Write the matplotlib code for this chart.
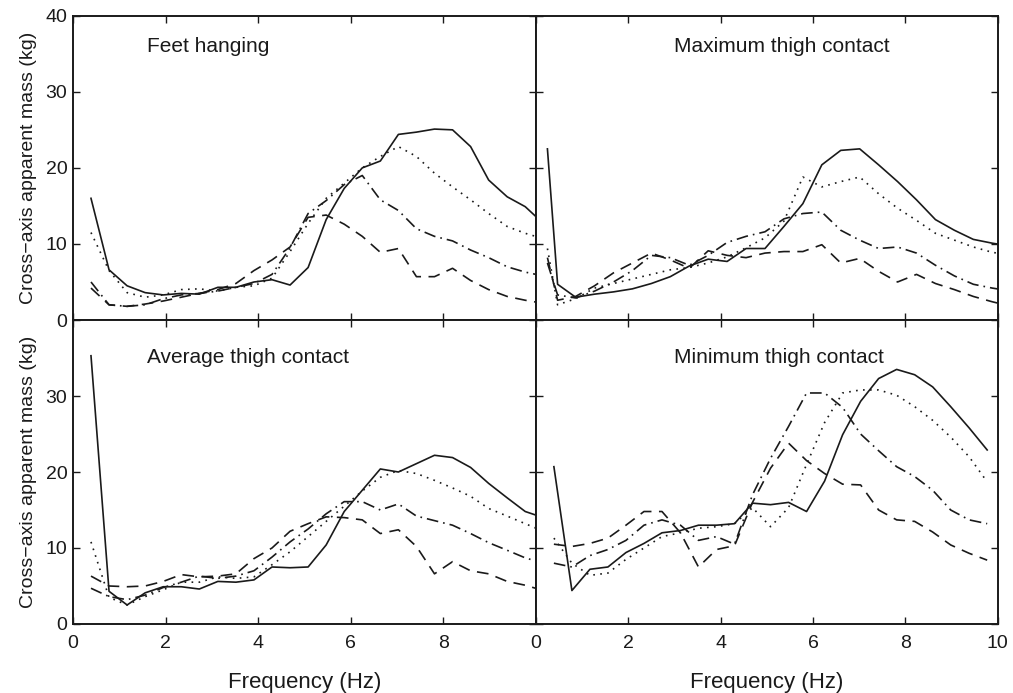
import matplotlib
matplotlib.use("Agg")
import matplotlib.pyplot as plt

plt.rcParams['font.family'] = ['Liberation Sans', 'DejaVu Sans']

# frequency grid (Hz)
freq = [0.39, 0.78, 1.17, 1.56, 1.95, 2.34, 2.73, 3.13, 3.52, 3.91, 4.30, 4.69, 5.08,
        5.47, 5.86, 6.25, 6.64, 7.03, 7.42, 7.81, 8.20, 8.59, 8.98, 9.38, 9.77, 10.16]
freq_max = [0.25, 0.47, 0.86, 1.27, 1.68, 2.09, 2.50, 2.91, 3.32, 3.73, 4.14, 4.55, 4.96,
            5.37, 5.78, 6.19, 6.60, 7.01, 7.42, 7.83, 8.24, 8.65, 9.06, 9.47, 9.88, 10.29]

# feet hanging
feet_solid = [16.0, 6.6, 4.5, 3.6, 3.3, 3.5, 3.4, 4.3, 4.3, 5.0, 5.3, 4.6, 6.9,
              13.2, 17.3, 20.0, 20.9, 24.4, 24.7, 25.1, 25.0, 22.8, 18.4, 16.2, 14.9, 12.7]
feet_dot = [11.5, 6.5, 3.6, 3.0, 3.3, 4.0, 4.1, 3.8, 4.3, 4.5, 5.5, 9.0, 12.7,
            16.0, 18.0, 20.0, 21.5, 22.8, 21.5, 19.3, 17.5, 15.8, 14.0, 12.3, 11.4, 10.7]
feet_dashdot = [5.0, 2.0, 1.8, 2.0, 2.8, 3.3, 3.5, 3.8, 4.3, 4.8, 6.0, 9.5, 14.0,
                15.7, 17.8, 19.0, 15.8, 14.4, 12.0, 11.0, 10.4, 9.2, 8.2, 7.0, 6.3, 5.8]
feet_dash = [4.2, 2.0, 1.8, 2.1, 2.5, 3.0, 3.5, 4.0, 4.8, 6.5, 7.9, 9.6, 13.5,
             13.8, 12.6, 11.0, 8.9, 9.4, 5.7, 5.7, 6.8, 5.2, 4.0, 3.1, 2.6, 2.2]

# maximum thigh contact
max_solid = [22.5, 4.7, 3.0, 3.4, 3.7, 4.1, 4.8, 5.7, 7.1, 8.0, 7.7, 9.4, 9.4,
             12.3, 15.3, 20.4, 22.3, 22.5, 20.4, 18.2, 15.8, 13.2, 11.8, 10.6, 10.1, 9.7]
max_dot = [9.4, 2.0, 2.8, 4.2, 4.8, 5.4, 6.0, 6.6, 6.9, 7.5, 8.3, 9.5, 10.8,
           13.0, 18.8, 17.5, 18.2, 18.8, 16.6, 14.7, 13.1, 11.4, 10.5, 9.6, 8.9, 8.5]
max_dashdot = [7.5, 3.3, 2.9, 3.8, 5.0, 6.5, 8.5, 8.2, 7.2, 8.5, 10.2, 11.0, 11.6,
               13.3, 14.0, 14.2, 11.8, 10.5, 9.4, 9.6, 8.8, 7.2, 5.8, 4.7, 4.2, 3.8]
max_dash = [8.2, 2.6, 3.1, 4.5, 6.2, 7.5, 8.8, 7.9, 6.8, 9.1, 8.5, 8.2, 8.8,
            9.0, 9.0, 9.9, 7.5, 8.1, 6.4, 5.0, 6.0, 4.8, 4.0, 3.1, 2.4, 1.8]

# average thigh contact
avg_solid = [35.3, 4.3, 2.5, 4.1, 4.9, 4.9, 4.6, 5.6, 5.5, 5.8, 7.5, 7.4, 7.5,
             10.4, 14.8, 17.6, 20.4, 20.0, 21.1, 22.2, 21.9, 20.6, 18.5, 16.6, 14.8, 14.0]
avg_dot = [10.8, 3.5, 2.5, 3.6, 4.5, 5.5, 5.5, 6.2, 6.0, 6.2, 7.8, 9.5, 11.5,
           13.5, 15.5, 17.5, 19.3, 20.2, 19.8, 18.9, 17.9, 16.8, 15.2, 14.2, 13.2, 12.2]
avg_dashdot = [4.7, 3.6, 3.2, 3.8, 4.8, 5.5, 6.3, 6.0, 6.3, 7.0, 8.8, 10.8, 12.5,
               14.5, 16.1, 16.1, 15.0, 15.8, 14.2, 13.6, 13.0, 11.9, 10.7, 9.7, 8.7, 8.0]
avg_dash = [6.3, 5.0, 4.9, 5.0, 5.6, 6.5, 6.2, 6.3, 6.6, 8.6, 10.0, 12.2, 13.2,
            14.1, 14.0, 13.7, 11.9, 12.4, 10.2, 6.6, 8.2, 7.0, 6.6, 5.6, 5.1, 4.4]

# minimum thigh contact (last frequency missing)
min_solid = [20.7, 4.4, 7.2, 7.5, 9.4, 10.6, 12.0, 12.3, 13.0, 13.0, 13.2, 15.9, 15.7,
             16.0, 14.8, 18.8, 24.9, 29.3, 32.3, 33.5, 32.8, 31.2, 28.6, 25.8, 22.9]
min_dot = [11.3, 8.0, 6.4, 6.7, 8.5, 10.0, 11.5, 12.0, 12.6, 12.8, 13.2, 15.3, 12.8,
           15.3, 21.0, 26.5, 30.4, 30.8, 30.8, 30.1, 28.6, 26.8, 24.6, 22.0, 18.7]
min_dashdot = [8.0, 7.5, 9.0, 9.8, 11.0, 13.0, 13.7, 13.0, 11.0, 11.5, 10.5, 17.0, 21.8,
               26.0, 30.4, 30.4, 28.5, 25.0, 22.8, 20.7, 19.4, 17.6, 15.0, 13.7, 13.2]
min_dash = [10.5, 10.2, 10.6, 11.3, 13.0, 14.8, 14.8, 12.0, 7.5, 9.8, 10.3, 16.0, 20.5,
            23.8, 21.5, 19.8, 18.4, 18.3, 15.0, 13.7, 13.5, 12.1, 10.4, 9.3, 8.4]

panels = [
    ("Feet hanging", freq, feet_solid, feet_dot, feet_dashdot, feet_dash),
    ("Maximum thigh contact", freq_max, max_solid, max_dot, max_dashdot, max_dash),
    ("Average thigh contact", freq, avg_solid, avg_dot, avg_dashdot, avg_dash),
    ("Minimum thigh contact", freq[:25], min_solid, min_dot, min_dashdot, min_dash),
]

styles = ['-', (0, (1, 3.2)), (0, (7, 3, 1, 3)), (0, (7, 4.5))]
ink = '#1a1a1a'

fig = plt.figure(figsize=(10.13, 6.93), dpi=100)
L, M, R = 0.072, 0.529, 0.985
B, H, T = 0.0996, 0.5382, 0.9773
boxes = [(L, H, M - L, T - H), (M, H, R - M, T - H),
         (L, B, M - L, H - B), (M, B, R - M, H - B)]

for i, (title, f, *series) in enumerate(panels):
    ax = fig.add_axes(boxes[i])
    for y, ls in zip(series, styles):
        ax.plot(f, y, color=ink, linestyle=ls, linewidth=1.2)
    ax.set_xlim(0, 10)
    ax.set_ylim(0, 40)
    ax.set_xticks([0, 2, 4, 6, 8, 10])
    ax.set_yticks([0, 10, 20, 30, 40])
    ax.tick_params(direction='in', top=True, right=True, length=5, width=1,
                   labelsize=14, colors=ink)
    ax.tick_params(axis='x', pad=8)
    ax.tick_params(axis='y', pad=4)
    for s in ax.spines.values():
        s.set_linewidth(1.4)
        s.set_color(ink)
    ax.text(3.0 if i % 2 else 1.6, 36 if i < 2 else 35.1, title,
            ha='left', va='center', fontsize=15, color=ink)

    row, col = divmod(i, 2)
    if row == 0:
        ax.set_xticklabels([])
    else:
        ax.set_xlabel("Frequency (Hz)", fontsize=16, color=ink)
        ax.xaxis.set_label_coords(0.5, -0.158)
        if col == 0:
            ax.set_xticklabels(['0', '2', '4', '6', '8', ''])
    if col == 1:
        ax.set_yticklabels([])
    else:
        ax.set_ylabel("Cross\u2212axis apparent mass (kg)", fontsize=14, color=ink)
        ax.yaxis.set_label_coords(-0.078, 0.5)
        if row == 1:
            ax.set_yticklabels(['0', '10', '20', '30', ''])

fig.savefig("out.png", dpi=100)
